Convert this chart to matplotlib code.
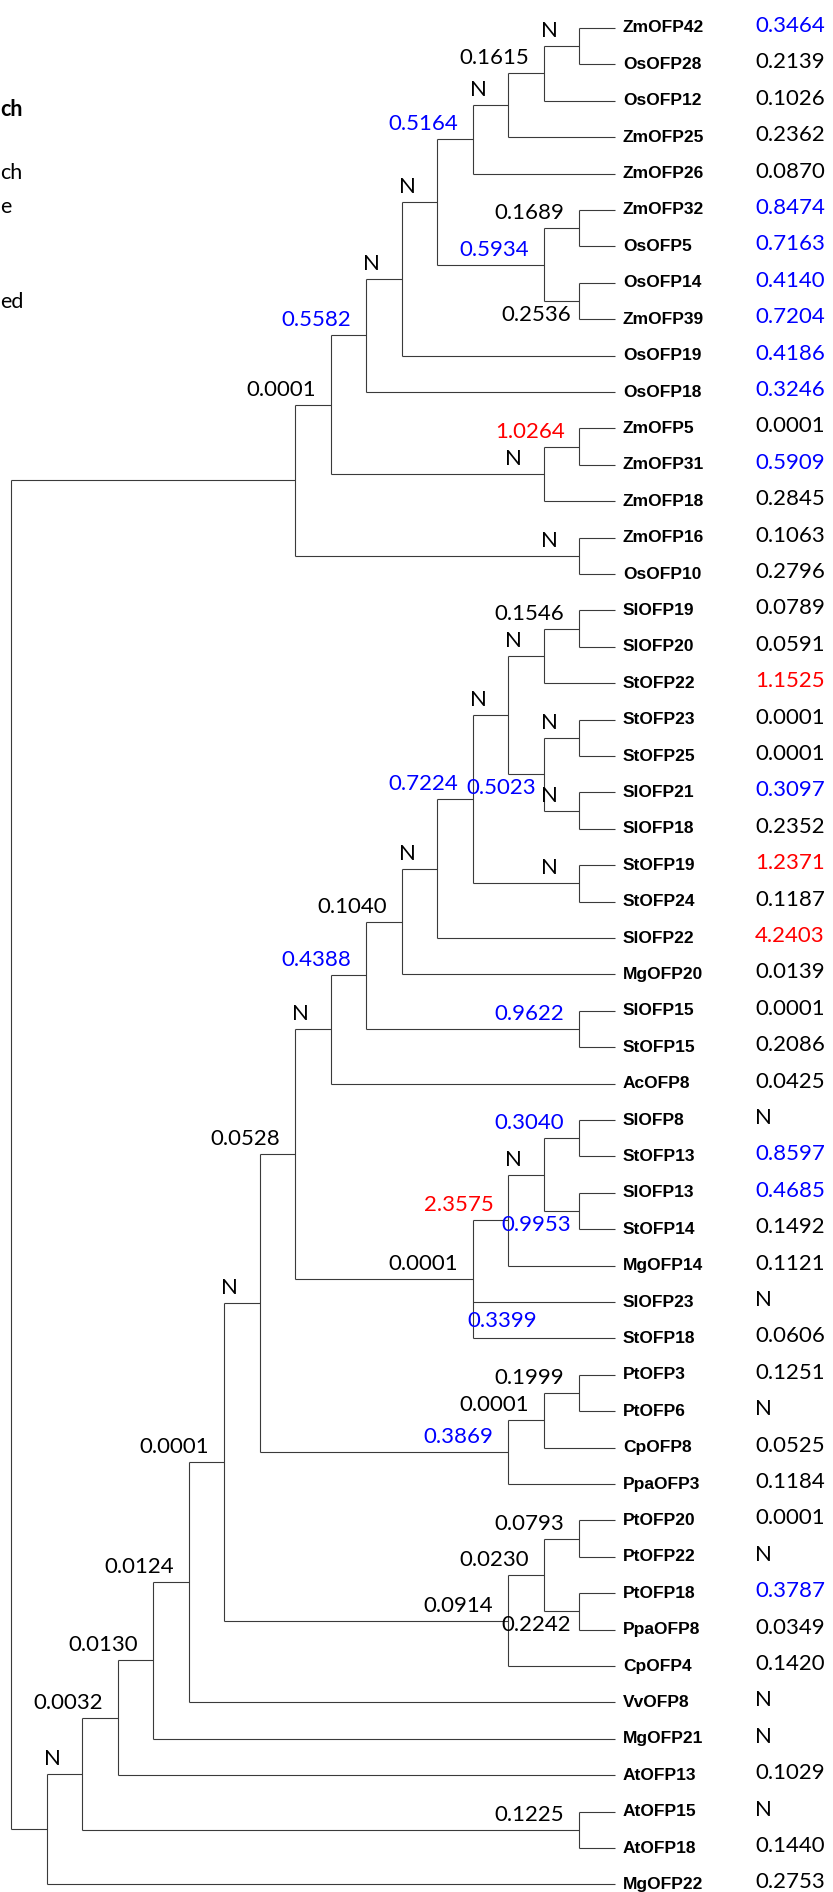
import matplotlib
matplotlib.use('Agg')
import matplotlib.pyplot as plt

# tree topology (newick), internal names are the values written on the branches
mono_clade = ("(((((((((ZmOFP42,OsOFP28)N,OsOFP12)0.1615,ZmOFP25)N,ZmOFP26)0.5164,"
              "((ZmOFP32,OsOFP5)0.1689,(OsOFP14,ZmOFP39)0.2536)0.5934)N,OsOFP19)N,OsOFP18)0.5582,"
              "((ZmOFP5,ZmOFP31)1.0264,ZmOFP18)N)0.0001,(ZmOFP16,OsOFP10)N)")
eudicot_clade = ("(((((((((SlOFP19,SlOFP20)0.1546,StOFP22)N,((StOFP23,StOFP25)N,(SlOFP21,SlOFP18)N)0.5023)N,"
                 "(StOFP19,StOFP24)N)0.7224,SlOFP22)N,MgOFP20)0.1040,(SlOFP15,StOFP15)0.9622)0.4388,AcOFP8)N,"
                 "((((SlOFP8,StOFP13)0.3040,(SlOFP13,StOFP14)0.9953)N,MgOFP14)2.3575,SlOFP23,StOFP18)0.0001)0.0528")
pt_clade1 = "(((PtOFP3,PtOFP6)0.1999,CpOFP8)0.0001,PpaOFP3)0.3869"
pt_clade2 = "(((PtOFP20,PtOFP22)0.0793,(PtOFP18,PpaOFP8)0.2242)0.0230,CpOFP4)0.0914"
basal_part = ("(((((((" + eudicot_clade + "," + pt_clade1 + ")N," + pt_clade2 +
              ")0.0001,VvOFP8)0.0124,MgOFP21)0.0130,AtOFP13)0.0032,(AtOFP15,AtOFP18)0.1225)N,MgOFP22)")
newick = "(" + mono_clade + "," + basal_part + ");"

# labels written under the branch instead of above it
below_labels = ['0.2536', '0.5023', '0.9953', '0.2242']
# value on a terminal branch
leaf_branch_labels = {'StOFP18': '0.3399'}

# values in the right column, same order as leaves
leaf_values = ['0.3464', '0.2139', '0.1026', '0.2362', '0.0870', '0.8474', '0.7163', '0.4140',
               '0.7204', '0.4186', '0.3246', '0.0001', '0.5909', '0.2845', '0.1063', '0.2796',
               '0.0789', '0.0591', '1.1525', '0.0001', '0.0001', '0.3097', '0.2352', '1.2371',
               '0.1187', '4.2403', '0.0139', '0.0001', '0.2086', '0.0425', 'N', '0.8597',
               '0.4685', '0.1492', '0.1121', 'N', '0.0606', '0.1251', 'N', '0.0525',
               '0.1184', '0.0001', 'N', '0.3787', '0.0349', '0.1420', 'N', 'N',
               '0.1029', 'N', '0.1440', '0.2753']

# cut off legend text on the left edge
side_text = [('ch', 110, 'bold'), ('ch', 173, 'normal'), ('e', 207, 'normal'), ('ed', 302, 'normal')]

W, H = 833, 1892
TIP_X = 615
STEP = 35.5
TOP = 28
DY = 36.4
LABEL_FONT = 'Lato'
LEAF_FONT = 'Liberation Sans'


def parse(s, i):
    if s[i] == '(':
        kids = []
        i += 1
        while True:
            kid, i = parse(s, i)
            kids.append(kid)
            if s[i] == ',':
                i += 1
                continue
            i += 1
            break
        j = i
        while s[j] not in ',();':
            j += 1
        return {'children': kids, 'label': s[i:j]}, j
    j = i
    while s[j] not in ',();':
        j += 1
    return {'children': [], 'name': s[i:j], 'label': ''}, j


root, _ = parse(newick, 0)

leaves = []


def layout(node):
    if not node['children']:
        node['y'] = TOP + len(leaves) * DY
        node['h'] = 0
        leaves.append(node)
    else:
        for c in node['children']:
            layout(c)
        node['h'] = max(c['h'] for c in node['children']) + 1
        ys = [c['y'] for c in node['children']]
        node['y'] = (min(ys) + max(ys)) / 2
    node['x'] = TIP_X - STEP * node['h']


layout(root)


def value_color(v):
    if v == 'N':
        return 'black'
    v = float(v)
    if v >= 1:
        return '#ff0000'
    if v >= 0.3:
        return '#0000ff'
    return 'black'


fig = plt.figure(figsize=(W / 100, H / 100), dpi=100)
ax = fig.add_axes([0, 0, 1, 1])
ax.set_xlim(0, W)
ax.set_ylim(H, 0)
ax.axis('off')

lc = '#3a3a3a'
lw = 0.8


def draw(node):
    if not node['children']:
        return
    ys = [c['y'] for c in node['children']]
    ax.plot([node['x'], node['x']], [min(ys), max(ys)], color=lc, lw=lw, solid_capstyle='butt')
    for c in node['children']:
        ax.plot([node['x'], c['x']], [c['y'], c['y']], color=lc, lw=lw, solid_capstyle='butt')
        lab = c['label']
        if lab:
            if lab in below_labels:
                ax.text(c['x'] - 8, c['y'] + 14, lab, ha='right', va='center',
                        fontsize=16, family=LABEL_FONT, color=value_color(lab))
            else:
                dx = 22 if lab == 'N' else 15
                ax.text(c['x'] - dx, c['y'] - 15, lab, ha='right', va='center',
                        fontsize=16, family=LABEL_FONT, color=value_color(lab))
        if not c['children'] and c['name'] in leaf_branch_labels:
            lab = leaf_branch_labels[c['name']]
            ax.text(node['x'] - 6, c['y'] - 17, lab, ha='left', va='center',
                    fontsize=16, family=LABEL_FONT, color=value_color(lab))
        draw(c)


draw(root)

for leaf, val in zip(leaves, leaf_values):
    ax.text(TIP_X + 8, leaf['y'], leaf['name'], ha='left', va='center',
            fontsize=12.5, family=LEAF_FONT, fontweight='bold')
    ax.text(755, leaf['y'] - 2, val, ha='left', va='center',
            fontsize=16, family=LABEL_FONT, color=value_color(val))

for txt, y, wt in side_text:
    ax.text(0, y, txt, ha='left', va='center', fontsize=15.5, family=LABEL_FONT, fontweight=wt)

fig.savefig('out.png', dpi=100)
